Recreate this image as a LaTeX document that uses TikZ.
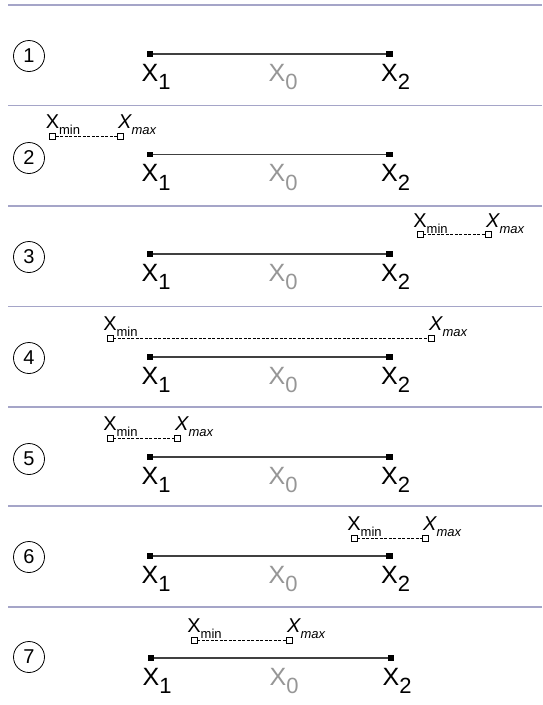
\documentclass[tikz,border=0pt]{standalone}
\usepackage{fontspec}
\setmainfont{Liberation Sans}
\usetikzlibrary{positioning}

\definecolor{sepcol}{RGB}{165,165,200}
\definecolor{xogray}{RGB}{150,150,150}

\newcommand{\xsub}[1]{X\rlap{\raisebox{-8.5pt}{\fontsize{22}{22}\selectfont #1}}}
\newcommand{\xmin}{X\rlap{\raisebox{-6pt}{\fontsize{13}{13}\selectfont min}}}
\newcommand{\xmax}{\itshape X\rlap{\raisebox{-6pt}{\fontsize{13}{13}\selectfont max}}}

\tikzset{
  sep/.style={draw=sepcol,line width=1.2pt},
  seg/.style={draw=black!75,line width=1.2pt},
  endpt/.style={fill=black,inner sep=0,minimum width=6.5pt,minimum height=5.5pt},
  limpt/.style={draw,fill=white,inner sep=0,minimum size=6pt,line width=0.7pt},
  limline/.style={dashed,dash pattern=on 3pt off 1.5pt,line width=0.8pt},
  num/.style={circle,draw,line width=0.8pt,minimum size=31pt,inner sep=0,font=\fontsize{20}{20}\selectfont},
  xlab/.style={inner sep=0,font=\fontsize{25}{25}\selectfont},
  limlab/.style={inner sep=0,font=\fontsize{20}{20}\selectfont}
}

\begin{document}
\begin{tikzpicture}[x=1pt,y=-1pt]

\useasboundingbox (0,0) rectangle (542,705);

% Separations
\draw[sep] (8,5) -- (542,5);
\draw[sep] (8,105.5) -- (542,105.5);
\draw[sep] (8,206) -- (542,206);
\draw[sep] (8,306.5) -- (542,306.5);
\draw[sep] (8,407) -- (542,407);
\draw[sep] (8,506) -- (542,506);
\draw[sep] (8,607) -- (542,607);

% Cas 1
\node[num] (c1) at (29,56) {1};
\node[endpt] (a1) at (150,54) {};
\node[endpt] (b1) at (389.5,54) {};
\draw[seg] (a1) -- (b1);
\node[xlab,below=7pt of a1] (xa1) {\xsub{1}};
\node[xlab,below=7pt of b1] (xb1) {\xsub{2}};
\node[xlab,text=xogray,anchor=north] (xo1) at (277,64) {\xsub{0}};

% Cas 2
\node[num] (c2) at (29,158) {2};
\node[endpt] (a2) at (150,154.5) {};
\node[endpt] (b2) at (389.5,154.5) {};
\draw[seg] (a2) -- (b2);
\node[xlab,below=7pt of a2] (xa2) {\xsub{1}};
\node[xlab,below=7pt of b2] (xb2) {\xsub{2}};
\node[xlab,text=xogray,anchor=north] (xo2) at (277,164.5) {\xsub{0}};
\node[limpt] (m2) at (52.5,136) {};
\node[limpt] (n2) at (120,136) {};
\draw[limline] (m2) -- (n2);
\node[limlab,anchor=base] (tm2) at ([shift={(0,-7.5)}]m2.center) {\xmin};
\node[limlab,anchor=base west] (tn2) at ([shift={(-2,-7.5)}]n2.center) {\xmax};

% Cas 3
\node[num] (c3) at (29,257) {3};
\node[endpt] (a3) at (150,254) {};
\node[endpt] (b3) at (389.5,254) {};
\draw[seg] (a3) -- (b3);
\node[xlab,below=7pt of a3] (xa3) {\xsub{1}};
\node[xlab,below=7pt of b3] (xb3) {\xsub{2}};
\node[xlab,text=xogray,anchor=north] (xo3) at (277,264) {\xsub{0}};
\node[limpt] (m3) at (420,234.5) {};
\node[limpt] (n3) at (488,234.5) {};
\draw[limline] (m3) -- (n3);
\node[limlab,anchor=base] (tm3) at ([shift={(0,-7.5)}]m3.center) {\xmin};
\node[limlab,anchor=base west] (tn3) at ([shift={(-2,-7.5)}]n3.center) {\xmax};

% Cas 4
\node[num] (c4) at (29,358) {4};
\node[endpt] (a4) at (150,357) {};
\node[endpt] (b4) at (389.5,357) {};
\draw[seg] (a4) -- (b4);
\node[xlab,below=7pt of a4] (xa4) {\xsub{1}};
\node[xlab,below=7pt of b4] (xb4) {\xsub{2}};
\node[xlab,text=xogray,anchor=north] (xo4) at (277,367) {\xsub{0}};
\node[limpt] (m4) at (110,338) {};
\node[limpt] (n4) at (431,338) {};
\draw[limline] (m4) -- (n4);
\node[limlab,anchor=base] (tm4) at ([shift={(0,-7.5)}]m4.center) {\xmin};
\node[limlab,anchor=base west] (tn4) at ([shift={(-2,-7.5)}]n4.center) {\xmax};

% Cas 5
\node[num] (c5) at (29,459) {5};
\node[endpt] (a5) at (150,457) {};
\node[endpt] (b5) at (389.5,457) {};
\draw[seg] (a5) -- (b5);
\node[xlab,below=7pt of a5] (xa5) {\xsub{1}};
\node[xlab,below=7pt of b5] (xb5) {\xsub{2}};
\node[xlab,text=xogray,anchor=north] (xo5) at (277,467) {\xsub{0}};
\node[limpt] (m5) at (110,438) {};
\node[limpt] (n5) at (177,438) {};
\draw[limline] (m5) -- (n5);
\node[limlab,anchor=base] (tm5) at ([shift={(0,-7.5)}]m5.center) {\xmin};
\node[limlab,anchor=base west] (tn5) at ([shift={(-2,-7.5)}]n5.center) {\xmax};

% Cas 6
\node[num] (c6) at (29,557) {6};
\node[endpt] (a6) at (150,556) {};
\node[endpt] (b6) at (389.5,556) {};
\draw[seg] (a6) -- (b6);
\node[xlab,below=7pt of a6] (xa6) {\xsub{1}};
\node[xlab,below=7pt of b6] (xb6) {\xsub{2}};
\node[xlab,text=xogray,anchor=north] (xo6) at (277,566) {\xsub{0}};
\node[limpt] (m6) at (354,538) {};
\node[limpt] (n6) at (425,538) {};
\draw[limline] (m6) -- (n6);
\node[limlab,anchor=base] (tm6) at ([shift={(0,-7.5)}]m6.center) {\xmin};
\node[limlab,anchor=base west] (tn6) at ([shift={(-2,-7.5)}]n6.center) {\xmax};

% Cas 7
\node[num] (c7) at (29,657) {7};
\node[endpt] (a7) at (151,658) {};
\node[endpt] (b7) at (391,658) {};
\draw[seg] (a7) -- (b7);
\node[xlab,below=7pt of a7] (xa7) {\xsub{1}};
\node[xlab,below=7pt of b7] (xb7) {\xsub{2}};
\node[xlab,text=xogray,anchor=north] (xo7) at (278,668) {\xsub{0}};
\node[limpt] (m7) at (194,640) {};
\node[limpt] (n7) at (289,640) {};
\draw[limline] (m7) -- (n7);
\node[limlab,anchor=base] (tm7) at ([shift={(0,-7.5)}]m7.center) {\xmin};
\node[limlab,anchor=base west] (tn7) at ([shift={(-2,-7.5)}]n7.center) {\xmax};

\end{tikzpicture}
\end{document}
